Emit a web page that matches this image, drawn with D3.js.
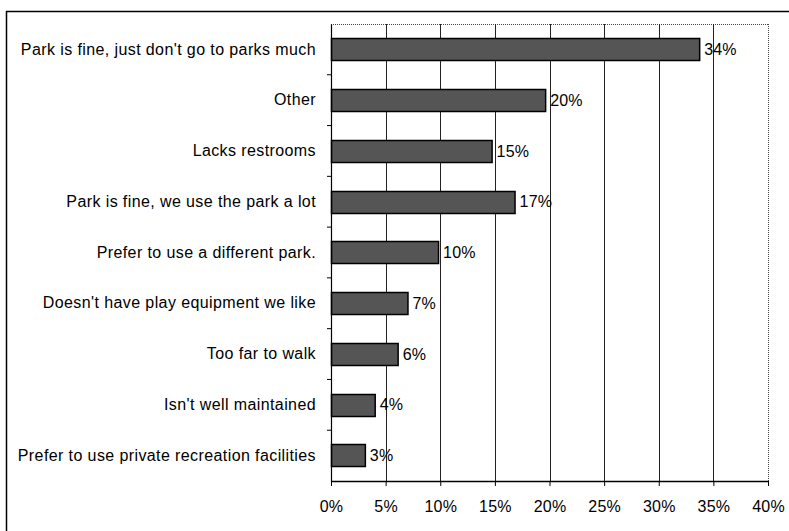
<!DOCTYPE html>
<html><head><meta charset="utf-8">
<script src="https://cdn.jsdelivr.net/npm/d3@7"></script>
<style>body{margin:0;background:#fff}svg{display:block}text{font-family:"Liberation Sans",Arial,sans-serif}</style>
</head><body><svg width="789" height="531"></svg>
<script>
const categories = ["Park is fine, just don't go to parks much","Other","Lacks restrooms","Park is fine, we use the park a lot","Prefer to use a different park.","Doesn't have play equipment we like","Too far to walk","Isn't well maintained","Prefer to use private recreation facilities"];
const values = [33.7, 19.6, 14.7, 16.8, 9.8, 7.0, 6.1, 4.0, 3.1];
const valueLabels = ["34%","20%","15%","17%","10%","7%","6%","4%","3%"];
const xTicks = [0,5,10,15,20,25,30,35,40];

const svg = d3.select("svg");
const L = 331, R = 768, T = 24, B = 481;
const x = d3.scaleLinear().domain([0,40]).range([L,R]);
const y = d3.scaleBand().domain(categories).range([T,B]).paddingInner(0.56).paddingOuter(0.28);
const yb = d3.scaleBand().domain(categories).range([T,B]);
const FF = "'Liberation Sans',Arial,sans-serif";

// outer frame
svg.append("line").attr("x1",6).attr("x2",789).attr("y1",11.5).attr("y2",11.5).attr("stroke","#000").attr("stroke-width",1.5);
svg.append("line").attr("x1",6.5).attr("x2",6.5).attr("y1",11).attr("y2",531).attr("stroke","#000").attr("stroke-width",1.5);

// plot border dotted (top & right)
svg.append("line").attr("x1",L).attr("x2",R).attr("y1",T+0.5).attr("y2",T+0.5).attr("stroke","#444").attr("stroke-dasharray","1,1");
svg.append("line").attr("x1",R+0.5).attr("x2",R+0.5).attr("y1",T).attr("y2",B).attr("stroke","#444").attr("stroke-dasharray","1,1");

// gridlines
svg.append("g").selectAll("line").data(xTicks.slice(1,-1)).join("line")
  .attr("x1",d=>Math.round(x(d))+0.5).attr("x2",d=>Math.round(x(d))+0.5)
  .attr("y1",T).attr("y2",B).attr("stroke","#222").attr("stroke-width",1);

// bars
svg.append("g").selectAll("rect").data(categories).join("rect")
  .attr("x",x(0)+0.5).attr("y",d=>Math.round(y(d))+0.5)
  .attr("width",(d,i)=>x(values[i])-x(0)).attr("height",Math.round(y.bandwidth()))
  .attr("fill","#555").attr("stroke","#000").attr("stroke-width",1.5);

// value labels
svg.append("g").selectAll("text").data(categories).join("text")
  .attr("x",(d,i)=>x(values[i])+5).attr("y",d=>y(d)+y.bandwidth()/2)
  .attr("dy","0.35em").attr("font-size",16).attr("fill","#000").style("letter-spacing","0.2px")
  .text((d,i)=>valueLabels[i]);

// y axis
const ya = svg.append("g").attr("transform",`translate(${L},0)`)
  .call(d3.axisLeft(yb).tickSize(0).tickPadding(15));
ya.select(".domain").attr("stroke","#000").attr("stroke-width",1.2);
ya.selectAll("text").attr("font-size",16).attr("fill","#000").style("font-family",FF).style("letter-spacing","0.4px");
// band boundary ticks
svg.append("g").selectAll("line").data(categories.slice(1)).join("line")
  .attr("x1",L-4).attr("x2",L).attr("y1",d=>yb(d)).attr("y2",d=>yb(d)).attr("stroke","#000");

// x axis
const xa = svg.append("g").attr("transform",`translate(0,${B})`)
  .call(d3.axisBottom(x).tickValues(xTicks).tickFormat(d=>d+"%").tickSize(5).tickSizeOuter(0).tickPadding(15));
xa.select(".domain").attr("stroke","#000").attr("stroke-width",1.5);
xa.selectAll("text").attr("font-size",16).attr("fill","#000").style("font-family",FF).style("letter-spacing","0.2px");
</script></body></html>
